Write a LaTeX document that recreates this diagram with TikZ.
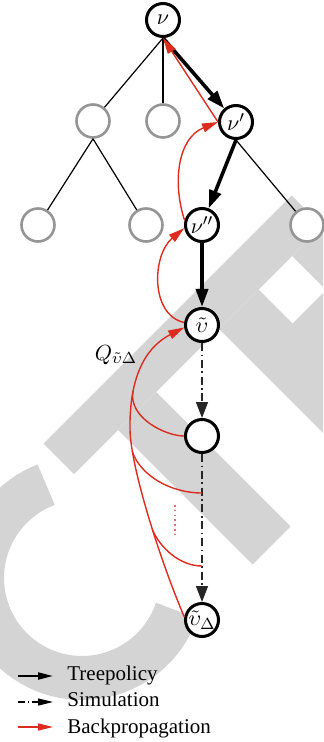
\documentclass[tikz,border=0pt]{standalone}
\usepackage{fontspec}
\setmainfont{Liberation Serif}
\usetikzlibrary{arrows.meta}
\definecolor{wmgray}{HTML}{D4D4D4}
\definecolor{bpred}{HTML}{DD2C1F}
\definecolor{leafgray}{HTML}{959595}
\tikzset{
  mainnode/.style={circle, draw=black, line width=1.5pt, fill=white,
    minimum size=16.5pt, inner sep=0pt, font=\fontsize{11}{13}\selectfont},
  leaf/.style={circle, draw=leafgray, line width=1.3pt, fill=white,
    minimum size=16.5pt, inner sep=0pt},
  treeline/.style={line width=0.6pt},
  policy/.style={line width=1.8pt, -{Triangle[length=9pt,width=6pt]}},
  simul/.style={line width=0.75pt, draw=black!85,
    dash pattern=on 4pt off 1.8pt on 0.8pt off 1.8pt,
    -{Triangle[length=8pt,width=6pt]}},
  backprop/.style={bpred, line width=0.7pt, -{Triangle[length=8pt,width=4.5pt]}},
  branch/.style={bpred, line width=0.7pt},
  legtext/.style={anchor=base west, inner sep=0pt, font=\fontsize{10.5}{12}\selectfont},
}
\begin{document}
\begin{tikzpicture}[x=0.5pt, y=-0.5pt]
\useasboundingbox (0,0) rectangle (323,742);

% background watermark letters
\begin{scope}
  \clip (0,0) rectangle (323,742);
  \fill[wmgray] (291.5,195.5) -- (322,226) -- (74,474) -- (43.5,443.5) -- cycle;
  \fill[wmgray] (156,392) -- (290.5,526.5) -- (252.5,564.5) -- (118,430) -- cycle;
  \fill[wmgray, even odd rule] (322,226) -- (548,452) -- (445,555) -- (219,329) -- cycle
    (292,256) -- (326,290) -- (292.5,323.5) -- (258.5,289.5) -- cycle;
  \draw[wmgray, line width=22pt]
    plot[domain=19:249, samples=60] ({82+100*cos(\x)},{578+100*sin(\x)});
\end{scope}

% tree nodes
\node[mainnode] (nu)   at (163,20)  {$\nu$};
\node[leaf]     (a1)   at (93,121)  {};
\node[leaf]     (a2)   at (163,121) {};
\node[mainnode] (nup)  at (236,122) {$\nu'$};
\node[leaf]     (b1)   at (38,225)  {};
\node[leaf]     (b2)   at (146,225) {};
\node[mainnode] (nupp) at (202,225) {$\nu''$};
\node[leaf]     (b3)   at (307,225) {};
\node[mainnode] (vt)   at (202,325) {$\tilde{\upsilon}$};
\node[mainnode] (ve)   at (202,436) {};
\node[mainnode] (vd)   at (202,620) {$\tilde{\upsilon}_{\Delta}$};

% plain tree edges
\draw[treeline] (nu.south) -- (a1);
\draw[treeline] (nu.south) -- (a2);
\draw[treeline] (a1.south) -- (b1);
\draw[treeline] (a1.south) -- (b2);
\draw[treeline] (nup.south) -- (b3);

% tree policy and simulation
\draw[policy] (nu.south) -- (nup);
\draw[policy] (nup.south) -- (nupp);
\draw[policy] (nupp) -- (vt);
\draw[simul] (vt) -- (ve);
\draw[simul] (ve) -- (vd);

% backpropagation
\draw[backprop] (nup.west) -- (nu.south);
\draw[backprop] (nupp.165) .. controls (172,182) and (178,138) .. (nup.west);
\draw[backprop] (vt.172) .. controls (150,315) and (152,255) .. (nupp.190);
\coordinate (qm) at (130,430);
\draw[backprop] (vd.170) .. controls (162,565) and (131,470) .. (qm)
  .. controls (129,370) and (150,345) .. (vt.188);
\coordinate (qa) at (133,391);
\draw[branch] (ve.west) .. controls (166,436) and (128,418) .. (qa);
\coordinate (s1) at (202,493);
\coordinate (m1) at (132.3,451.4);
\draw[branch] (s1) .. controls (170,493) and (140,475) .. (m1);
\coordinate (s2) at (202,566);
\coordinate (m2) at (152.2,529.2);
\draw[branch] (s2) .. controls (180,566) and (160,548) .. (m2);
\coordinate (d1) at (175,505);
\coordinate (d2) at (175,535);
\draw[bpred!70, line width=0.7pt, dash pattern=on 0.8pt off 1.6pt] (d1) -- (d2);

\node[font=\fontsize{11}{13}\selectfont, inner sep=1pt] (qlab) at (116,355) {$Q_{\tilde{\upsilon}\Delta}$};

% legend
\coordinate (la1) at (18,676); \coordinate (lb1) at (53,676);
\coordinate (la2) at (18,702); \coordinate (lb2) at (53,702);
\coordinate (la3) at (18,727); \coordinate (lb3) at (53,727);
\draw[line width=1pt, -{Triangle[length=7.5pt,width=3.5pt]}] (la1) -- (lb1);
\draw[line width=0.6pt, dash pattern=on 3.5pt off 1.5pt on 0.7pt off 1.5pt,
  -{Triangle[length=7.5pt,width=3.5pt]}] (la2) -- (lb2);
\draw[bpred, line width=0.7pt, -{Triangle[length=7.5pt,width=3.5pt]}] (la3) -- (lb3);
\node[legtext] (t1) at (67,680) {Treepolicy};
\node[legtext] (t2) at (67,706) {Simulation};
\node[legtext] (t3) at (67,733) {Backpropagation};
\end{tikzpicture}
\end{document}
